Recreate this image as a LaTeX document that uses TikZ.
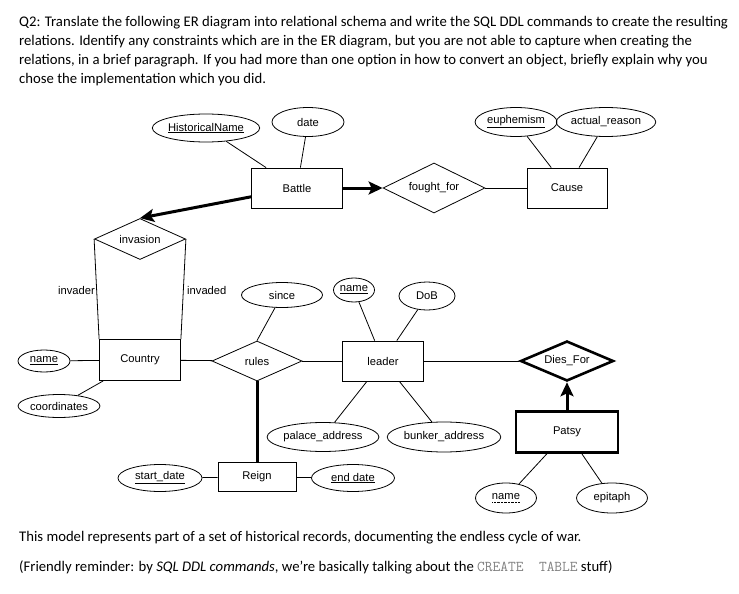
\documentclass[tikz,border=0pt]{standalone}
\usepackage{fontspec}
\setmainfont{Carlito}
\setsansfont{Liberation Sans}
\usetikzlibrary{arrows.meta,shapes.geometric}
\definecolor{monogray}{HTML}{808080}
\newsavebox{\dotbox}
\newcommand{\dotunder}[1]{\sbox{\dotbox}{#1}\rlap{\raisebox{-2.5pt}{\hbox to \wd\dotbox{\leaders\hbox to 1.4pt{\hss\rule{0.7pt}{0.7pt}\hss}\hfill}}}\usebox{\dotbox}}

\begin{document}
\begin{tikzpicture}[x=1pt,y=-1pt,font=\fontsize{11.2}{13}\selectfont\sffamily,
		entity/.style={draw,rectangle,line width=0.8pt,inner sep=0pt},
		weakentity/.style={entity,line width=2.6pt},
		attr/.style={draw,ellipse,line width=0.8pt,inner sep=0pt},
		rel/.style={draw,diamond,line width=0.8pt,inner sep=0pt,shape aspect=2.3},
		weakrel/.style={rel,line width=2.6pt},
		link/.style={line width=0.8pt},
		boldlink/.style={line width=3pt},
		boldarrow/.style={line width=3pt,-{Stealth[length=14pt,width=13pt,inset=3pt]}},
		prose/.style={inner sep=0pt,font=\fontsize{14.7}{19}\selectfont\rmfamily}]
			\useasboundingbox (0,0) rectangle (739,594);
			\node[prose,anchor=north west,align=left] (question) at (19,16.5) {Q2: Translate the following ER diagram into relational schema and write the SQL DDL commands to create the resulting\\ relations. Identify any constraints which are in the ER diagram, but you are not able to capture when creating the\\ relations, in a brief paragraph. If you had more than one option in how to convert an object, briefly explain why you\\ chose the implementation which you did.};
			\node[attr,minimum width=92pt,minimum height=28pt] (histname) at (206,128) {\underline{HistoricalName}};
			\node[attr,minimum width=72pt,minimum height=29pt] (date) at (308,122) {date};
			\node[entity,minimum width=91pt,minimum height=40pt] (battle) at (297,188) {Battle};
			\node[rel,minimum width=102pt,minimum height=50pt] (foughtfor) at (434,188) {fought\_for};
			\node[entity,minimum width=80pt,minimum height=40pt] (cause) at (567,188) {Cause};
			\node[attr,minimum width=81pt,minimum height=29pt] (euphemism) at (516,122) {\underline{euphemism}};
			\node[attr,minimum width=83pt,minimum height=29pt] (reason) at (606,122) {actual\_reason};
			\node[rel,minimum width=91pt,minimum height=41pt] (invasion) at (140,239) {invasion};
			\node[entity,minimum width=81pt,minimum height=41pt] (country) at (140,360) {Country};
			\node[attr,minimum width=52pt,minimum height=22pt] (cname) at (44,361) {\underline{name}};
			\node[attr,minimum width=72pt,minimum height=23pt] (coords) at (59,406) {coordinates};
			\node[rel,minimum width=90pt,minimum height=40pt] (rules) at (257,361) {rules};
			\node[attr,minimum width=81pt,minimum height=25pt] (since) at (282,295) {since};
			\node[entity,minimum width=81pt,minimum height=40pt] (leader) at (383,361) {leader};
			\node[attr,minimum width=41pt,minimum height=24pt] (lname) at (354,290) {\underline{name}};
			\node[attr,minimum width=56pt,minimum height=28pt] (dob) at (427,296) {DoB};
			\node[attr,minimum width=102pt,minimum height=29pt] (palace) at (323,437) {palace\_address};
			\node[attr,minimum width=102pt,minimum height=30pt] (bunker) at (444,437) {bunker\_address};
			\node[weakrel,minimum width=93pt,minimum height=40pt] (diesfor) at (567,361) {Dies\_For};
			\node[weakentity,minimum width=102pt,minimum height=41pt] (patsy) at (567,432) {Patsy};
			\node[attr,minimum width=61pt,minimum height=30pt] (pname) at (506,498) {\dotunder{name}};
			\node[attr,minimum width=71pt,minimum height=30pt] (epitaph) at (612,498) {epitaph};
			\node[entity,minimum width=78pt,minimum height=29pt] (reign) at (257,477) {Reign};
			\node[attr,minimum width=84pt,minimum height=27pt] (start) at (160,478) {\underline{start\_date}};
			\node[attr,minimum width=83pt,minimum height=27pt] (enddate) at (353,478) {\underline{end date}};
			\node[anchor=east,inner sep=1pt] (invader) at (96,290) {invader};
			\node[anchor=west,inner sep=1pt] (invaded) at (186,290) {invaded};
			\draw[link] (histname) -- (battle);
			\draw[link] (date) -- (battle);
			\draw[boldarrow] (battle) -- (foughtfor.west);
			\draw[link] (foughtfor) -- (cause);
			\draw[link] (euphemism) -- (cause);
			\draw[link] (reason) -- (cause);
			\draw[boldarrow] (battle) -- (invasion.north);
			\draw[link] (invasion.west) -- (country.north west);
			\draw[link] (invasion.east) -- (country.north east);
			\draw[link] (cname) -- (country);
			\draw[link] (coords) -- (country);
			\draw[link] (country) -- (rules);
			\draw[link] (since) -- (rules.north);
			\draw[link] (rules) -- (leader);
			\draw[link] (lname) -- (leader);
			\draw[link] (dob) -- (leader);
			\draw[link] (palace) -- (leader);
			\draw[link] (bunker) -- (leader);
			\draw[link] (leader) -- (diesfor);
			\draw[boldarrow] (patsy) -- (diesfor.south);
			\draw[link] (pname) -- (patsy);
			\draw[link] (epitaph) -- (patsy);
			\draw[boldlink] (rules.south) -- (reign);
			\draw[link] (start) -- (reign);
			\draw[link] (enddate) -- (reign);
			\node[prose,anchor=base west] (remark) at (19,541) {This model represents part of a set of historical records, documenting the endless cycle of war.};
			\node[prose,anchor=base west] (reminder) at (19,571) {(Friendly reminder: by \textit{SQL DDL commands}, we’re basically talking about the {\fontsize{15}{19}\selectfont\ttfamily\color{monogray}CREATE\ \ TABLE} stuff)};
		\end{tikzpicture}
\end{document}
